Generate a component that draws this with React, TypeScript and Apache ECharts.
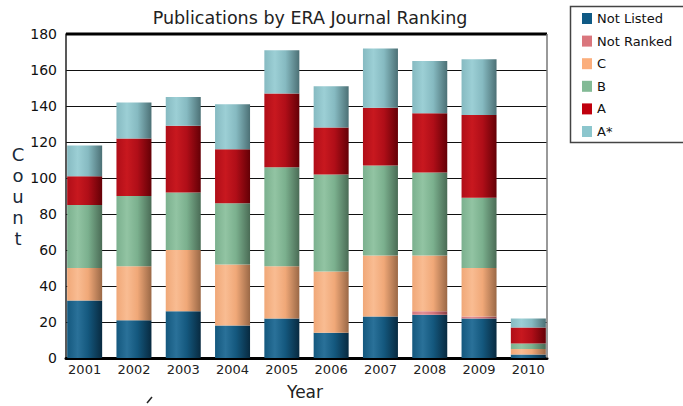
import React, { useEffect, useRef } from "react";
import * as echarts from "echarts";

const years = ["2001", "2002", "2003", "2004", "2005", "2006", "2007", "2008", "2009", "2010"];
const notListed = [32, 21, 26, 18, 22, 14, 23, 24, 22, 2];
const notRanked = [0, 0, 0, 0, 0, 0, 0, 2, 1, 0];
const rankC = [18, 30, 34, 34, 29, 34, 34, 31, 27, 3];
const rankB = [35, 39, 32, 34, 55, 54, 50, 46, 39, 3];
const rankA = [16, 32, 37, 30, 41, 26, 32, 33, 46, 9];
const rankAStar = [17, 20, 16, 25, 24, 23, 33, 29, 31, 5];
const yTicks = [0, 20, 40, 60, 80, 100, 120, 140, 160, 180];

const seriesNames = ["Not Listed", "Not Ranked", "C", "B", "A", "A*"];
const seriesData = [notListed, notRanked, rankC, rankB, rankA, rankAStar];
const palette = [
  { base: "#14587e", light: "#2a7199", dark: "#082a40" },
  { base: "#d4757c", light: "#e28f95", dark: "#8a4046" },
  { base: "#f0a878", light: "#f9bc92", dark: "#9a6846" },
  { base: "#7bb08e", light: "#92c4a3", dark: "#4a6b55" },
  { base: "#b00e18", light: "#c8181f", dark: "#640006" },
  { base: "#86bac1", light: "#9ccfd5", dark: "#4c7075" },
];
const legendColors = ["#0f5a85", "#da767d", "#fbae7c", "#82ba95", "#c0000d", "#8cc6cd"];

function grad(c: { base: string; light: string; dark: string }) {
  return new echarts.graphic.LinearGradient(0, 0, 1, 0, [
    { offset: 0, color: c.base },
    { offset: 0.3, color: c.light },
    { offset: 0.6, color: c.base },
    { offset: 1, color: c.dark },
  ]);
}

const FONT = "DejaVu Sans";

export default function App() {
  const ref = useRef<HTMLDivElement>(null);
  useEffect(() => {
    if (!ref.current) return;
    const chart = echarts.init(ref.current, undefined, { renderer: "svg" });
    const gTop = 34;
    const gHeight = 324;
    chart.setOption({
      animation: false,
      backgroundColor: "#ffffff",
      title: {
        text: "Publications by ERA Journal Ranking",
        left: 305,
        textAlign: "center",
        top: 4,
        textStyle: { fontFamily: FONT, fontSize: 17.5, fontWeight: "normal", color: "#222" },
      },
      legend: {
        orient: "vertical",
        left: 577,
        top: 7,
        itemWidth: 10,
        itemHeight: 11,
        itemGap: 9.6,
        icon: "rect",
        data: seriesNames.map((n, i) => ({ name: n, itemStyle: { color: legendColors[i] } })),
        textStyle: { fontFamily: FONT, fontSize: 13, color: "#111", lineHeight: 13 },
      },
      grid: [
        { left: 60, width: 493, top: gTop, height: gHeight },
        { left: 66, width: 481, top: gTop, height: gHeight },
      ],
      xAxis: [
        {
          type: "category",
          gridIndex: 0,
          data: years,
          axisLine: { show: false },
          axisTick: { show: false },
          axisLabel: { fontFamily: FONT, fontSize: 13, color: "#222", margin: 5 },
        },
        {
          type: "category",
          gridIndex: 1,
          data: years,
          axisLine: { show: true, lineStyle: { color: "#000", width: 3 } },
          axisTick: { show: false },
          axisLabel: { show: false },
        },
      ],
      yAxis: [
        {
          type: "value",
          gridIndex: 0,
          min: 0,
          max: 180,
          interval: 20,
          show: false,
          splitLine: { show: false },
        },
        {
          type: "value",
          gridIndex: 1,
          min: 0,
          max: 180,
          interval: 20,
          axisLine: { show: true, lineStyle: { color: "#222", width: 1.5 } },
          axisTick: { show: false },
          axisLabel: { fontFamily: FONT, fontSize: 14, color: "#111", margin: 9 },
          splitLine: { show: true, lineStyle: { color: "#111", width: 1 } },
        },
      ],
      series: seriesNames.map((name, i) => ({
        name,
        type: "bar",
        stack: "total",
        xAxisIndex: 0,
        yAxisIndex: 0,
        barWidth: 35,
        data: seriesData[i],
        itemStyle: { color: grad(palette[i]) },
        z: 3,
      })),
      graphic: [
        { type: "line", shape: { x1: 66, y1: 34, x2: 547, y2: 34 }, style: { stroke: "#000", lineWidth: 3 }, z: 10 },
        { type: "line", shape: { x1: 547, y1: 34, x2: 547, y2: 358 }, style: { stroke: "#777", lineWidth: 1.5 }, z: 10 },
        {
          type: "rect",
          shape: { x: 570.5, y: 6.5, width: 130, height: 136 },
          style: { fill: "none", stroke: "#444", lineWidth: 1.5 },
          z: 1,
        },
        {
          type: "text",
          x: 18,
          y: 196,
          style: {
            text: "C\no\nu\nn\nt",
            fontFamily: FONT,
            fontSize: 18,
            lineHeight: 21,
            fill: "#1a2a3a",
            align: "center",
            verticalAlign: "middle",
          },
        },
        {
          type: "text",
          x: 305,
          y: 392,
          style: {
            text: "Year",
            fontFamily: FONT,
            fontSize: 17,
            fill: "#222",
            align: "center",
            verticalAlign: "middle",
          },
        },
        { type: "line", shape: { x1: 147, y1: 403, x2: 152, y2: 397 }, style: { stroke: "#222", lineWidth: 1.5 } },
      ],
    });
    return () => chart.dispose();
  }, []);
  return <div ref={ref} style={{ width: 683, height: 406, position: "absolute", left: 0, top: 0 }} />;
}
